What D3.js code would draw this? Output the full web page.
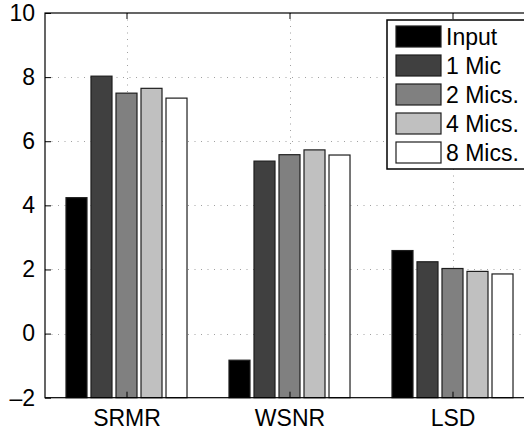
<!DOCTYPE html>
<html>
<head>
<meta charset="utf-8">
<script src="https://cdn.jsdelivr.net/npm/d3@7"></script>
<style>
  html, body { margin: 0; padding: 0; background: #fff; }
  svg { display: block; font-family: "Liberation Sans", Arial, sans-serif; }
</style>
</head>
<body>
<div id="chart"></div>
<script>
const categories = ['SRMR', 'WSNR', 'LSD'];
const series = ['Input', '1 Mic', '2 Mics.', '4 Mics.', '8 Mics.'];
const colors = ['#000000', '#404040', '#808080', '#c0c0c0', '#ffffff'];
// values[series][category]
const values = [
  [4.24, -0.83, 2.59],
  [8.03, 5.38, 2.24],
  [7.50, 5.58, 2.03],
  [7.65, 5.73, 1.94],
  [7.345, 5.57, 1.86]
];
const yTicks = [-2, 0, 2, 4, 6, 8, 10];
const yTickLabels = ['\u20132', '0', '2', '4', '6', '8', '10'];

const width = 524, height = 432;
const margin = { left: 45, top: 13, bottom: 34 };
const plotRight = 534; // axes box runs past the window edge
const fontSize = 23;

const svg = d3.select('#chart').append('svg')
  .attr('width', width)
  .attr('height', height);

const x = d3.scaleLinear()
  .domain([0.5, categories.length + 0.5])
  .range([margin.left, plotRight]);

const y = d3.scaleLinear()
  .domain([-2, 10])
  .range([height - margin.bottom - 0.3, margin.top]);

const groupW = (x(2) - x(1)) * 0.767;
const xs = d3.scaleBand()
  .domain(series)
  .range([-groupW / 2, groupW / 2])
  .paddingInner(0.16)
  .paddingOuter(0.08);

// grid
const grid = svg.append('g')
  .attr('stroke', '#a0a0a0')
  .attr('stroke-width', 1)
  .attr('stroke-dasharray', '1,5.5');

grid.selectAll('.hg')
  .data(yTicks.slice(1, -1))
  .enter().append('line')
    .attr('x1', margin.left).attr('x2', plotRight)
    .attr('y1', d => Math.round(y(d)) + 0.5)
    .attr('y2', d => Math.round(y(d)) + 0.5);

grid.selectAll('.vg')
  .data(categories)
  .enter().append('line')
    .attr('x1', (d, i) => Math.round(x(i + 1)) + 0.5)
    .attr('x2', (d, i) => Math.round(x(i + 1)) + 0.5)
    .attr('y1', y(10)).attr('y2', y(-2));

// bars
const groups = svg.selectAll('.grp')
  .data(categories)
  .enter().append('g')
    .attr('transform', (d, i) => `translate(${x(i + 1)},0)`);

groups.selectAll('rect')
  .data((d, ci) => series.map((s, si) => ({ s, si, v: values[si][ci] })))
  .enter().append('rect')
    .attr('x', d => xs(d.s))
    .attr('width', xs.bandwidth())
    .attr('y', d => y(d.v))
    .attr('height', d => y(-2) - y(d.v))
    .attr('fill', d => colors[d.si])
    .attr('stroke', '#1e1e1e')
    .attr('stroke-width', 1.2);

// axes box
svg.append('rect')
  .attr('x', margin.left).attr('y', y(10))
  .attr('width', plotRight - margin.left)
  .attr('height', y(-2) - y(10))
  .attr('fill', 'none')
  .attr('stroke', '#000')
  .attr('stroke-width', 1.2);

const styleText = g => g.selectAll('text')
  .attr('font-size', fontSize)
  .attr('fill', '#000')
  .attr('font-family', '"Liberation Sans", Arial, sans-serif');

const yAxis = d3.axisLeft(y)
  .tickValues(yTicks)
  .tickSize(-6)
  .tickPadding(10)
  .tickFormat((d, i) => yTickLabels[i]);

svg.append('g')
  .attr('transform', `translate(${margin.left},0)`)
  .call(yAxis)
  .call(g => g.select('.domain').remove())
  .call(styleText);

const xAxis = d3.axisBottom(x)
  .tickValues(categories.map((d, i) => i + 1))
  .tickSize(-6)
  .tickPadding(12)
  .tickFormat((d, i) => categories[i]);

svg.append('g')
  .attr('transform', `translate(0,${y(-2)})`)
  .call(xAxis)
  .call(g => g.select('.domain').remove())
  .call(styleText);

svg.append('g')
  .attr('transform', `translate(0,${y(10)})`)
  .call(d3.axisTop(x).tickValues(categories.map((d, i) => i + 1)).tickSize(-6).tickFormat(''))
  .call(g => g.select('.domain').remove());

// legend
const legend = svg.append('g').attr('transform', 'translate(387,20)');

legend.append('rect')
  .attr('width', 150).attr('height', 149)
  .attr('fill', '#fff')
  .attr('stroke', '#000')
  .attr('stroke-width', 1.5);

const row = legend.selectAll('.legend-row')
  .data(series)
  .enter().append('g')
    .attr('transform', (d, i) => `translate(9,${6 + i * 29})`);

row.append('rect')
  .attr('width', 45).attr('height', 21)
  .attr('fill', (d, i) => colors[i])
  .attr('stroke', '#1e1e1e')
  .attr('stroke-width', 1.2);

row.append('text')
  .attr('x', 50)
  .attr('y', 18.5)
  .attr('font-size', fontSize)
  .text(d => d);
</script>
</body>
</html>
